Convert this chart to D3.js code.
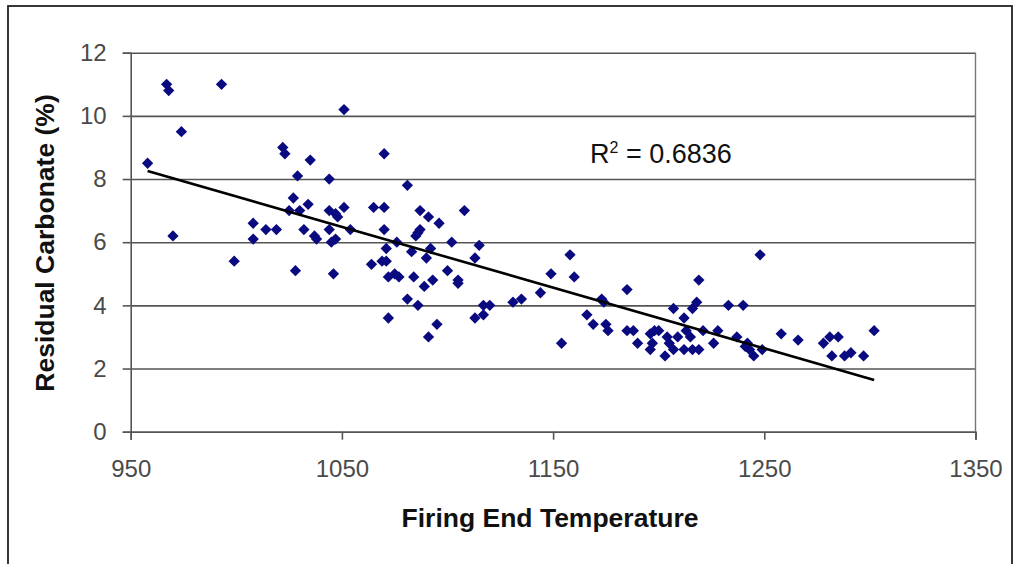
<!DOCTYPE html>
<html>
<head>
<meta charset="utf-8">
<script src="https://cdn.jsdelivr.net/npm/d3@7"></script>
<style>
  body { margin: 0; background: #fff; }
  text { font-family: "Liberation Sans", Arial, sans-serif; }
</style>
</head>
<body>
<div id="graf"></div>
<script>
// -- Datos
temperatura = [958, 967, 968, 970, 974, 993, 999, 1008, 1008, 1014, 1019, 1022, 1023, 1025, 1027, 1028, 1029, 1030,
    1032, 1034, 1035, 1037, 1038, 1044, 1044, 1044, 1045, 1046, 1047, 1047, 1048, 1051, 1051, 1054, 1064, 1065,
    1069, 1070, 1070, 1070, 1071, 1071, 1072, 1072, 1075, 1076, 1077, 1081, 1081, 1083, 1084, 1085, 1086, 1086,
    1087, 1087, 1089, 1090, 1091, 1091, 1092, 1093, 1095, 1096, 1100, 1102, 1105, 1105, 1108, 1113, 1113, 1115,
    1117, 1117, 1120, 1131, 1135, 1144, 1149, 1154, 1158, 1160, 1166, 1169, 1173, 1174, 1175, 1176, 1185, 1185,
    1188, 1190, 1196, 1196, 1197, 1198, 1200, 1203, 1204, 1205, 1207, 1207, 1209, 1212, 1212, 1213, 1215, 1216,
    1216, 1218, 1219, 1219, 1221, 1226, 1228, 1233, 1237, 1240, 1241, 1242, 1243, 1245, 1248, 1249, 1258, 1266,
    1278, 1281, 1282, 1285, 1288, 1291, 1297, 1302]
carbonato = [8.5, 11.0, 10.8, 6.2, 9.5, 11.0, 5.4, 6.6, 6.1, 6.4, 6.4, 9.0, 8.8, 7.0, 7.4, 5.1, 8.1, 7.0,
    6.4, 7.2, 8.6, 6.2, 6.1, 8.0, 7.0, 6.4, 6.0, 5.0, 6.9, 6.1, 6.8, 10.2, 7.1, 6.4, 5.3, 7.1,
    5.4, 8.8, 7.1, 6.4, 5.8, 5.4, 4.9, 3.6, 5.0, 6.0, 4.9, 7.8, 4.2, 5.7, 4.9, 6.2, 6.3, 4.0,
    7.0, 6.4, 4.6, 5.5, 6.8, 3.0, 5.8, 4.8, 3.4, 6.6, 5.1, 6.0, 4.8, 4.7, 7.0, 5.5, 3.6, 5.9,
    4.0, 3.7, 4.0, 4.1, 4.2, 4.4, 5.0, 2.8, 5.6, 4.9, 3.7, 3.4, 4.2, 4.1, 3.4, 3.2, 4.5, 3.2,
    3.2, 2.8, 3.1, 2.6, 2.8, 3.2, 3.2, 2.4, 3.0, 2.8, 3.9, 2.6, 3.0, 3.6, 2.6, 3.2, 3.0, 3.9,
    2.6, 4.1, 4.8, 2.6, 3.2, 2.8, 3.2, 4.0, 3.0, 4.0, 2.7, 2.8, 2.6, 2.4, 5.6, 2.6, 3.1, 2.9,
    2.8, 3.0, 2.4, 3.0, 2.4, 2.5, 2.4, 3.2]
xTicks = [950, 1050, 1150, 1250, 1350]
yTicks = [0, 2, 4, 6, 8, 10, 12]
tituloX = 'Firing End Temperature'
tituloY = 'Residual Carbonate (%)'
valorR2 = '0.6836'

// -- Configuración del canvas
ancho_total = 1021
alto_total = 564
margins = {top: 52.7, left: 130.7, right: 45.5, bottom: 132.3}
ancho = ancho_total - margins.left - margins.right
alto = alto_total - margins.top - margins.bottom

svg = d3.select('#graf').append('svg')
        .attr('width', ancho_total)
        .attr('height', alto_total)

// -- Marco exterior
svg.append('rect')
    .attr('x', 8).attr('y', 6)
    .attr('width', 1004).attr('height', 600)
    .attr('fill', 'none')
    .attr('stroke', '#222')
    .attr('stroke-width', 1.8)

g = svg.append('g')
        .attr('transform', `translate(${margins.left}, ${margins.top})`)

// -- Escaladores
x = d3.scaleLinear().domain([950, 1350]).range([0, ancho])
y = d3.scaleLinear().domain([0, 12]).range([alto, 0])

// -- Grid horizontal
yAxisGrid = d3.axisLeft(y).tickValues(yTicks).tickFormat('').tickSize(-ancho)
gridG = g.append('g').call(yAxisGrid)
gridG.select('.domain').remove()
gridG.selectAll('line').attr('stroke', '#555').attr('stroke-width', 1.6)

// -- Borde derecho del área
g.append('line')
    .attr('x1', ancho).attr('x2', ancho)
    .attr('y1', 0).attr('y2', alto)
    .attr('stroke', '#777').attr('stroke-width', 1.4)

// -- Ejes
yAxis = d3.axisLeft(y).tickValues(yTicks).tickFormat(d3.format('d')).tickSize(8).tickPadding(16)
ejeY = g.append('g').call(yAxis)
ejeY.select('.domain').attr('stroke', '#555').attr('stroke-width', 1.6)
ejeY.selectAll('.tick line').attr('stroke', '#555').attr('stroke-width', 1.6)
ejeY.selectAll('text')
    .attr('font-size', '24px')
    .attr('font-family', '"Liberation Sans", Arial, sans-serif')
    .attr('fill', '#4a4a4a')

xAxis = d3.axisBottom(x).tickValues(xTicks).tickFormat(d3.format('d')).tickSize(8).tickPadding(20)
ejeX = g.append('g').attr('transform', `translate(0, ${alto})`).call(xAxis)
ejeX.select('.domain').attr('stroke', '#555').attr('stroke-width', 1.6)
ejeX.selectAll('.tick line').attr('stroke', '#555').attr('stroke-width', 1.6)
ejeX.selectAll('text')
    .attr('font-size', '24px')
    .attr('font-family', '"Liberation Sans", Arial, sans-serif')
    .attr('fill', '#4a4a4a')

// -- Títulos de ejes
svg.append('text')
    .attr('x', 550).attr('y', 527)
    .attr('text-anchor', 'middle')
    .attr('font-size', '26.5px').attr('font-weight', 'bold')
    .attr('fill', '#111')
    .text(tituloX)

svg.append('text')
    .attr('transform', 'translate(54, 243) rotate(-90)')
    .attr('text-anchor', 'middle')
    .attr('font-size', '26.5px').attr('font-weight', 'bold')
    .attr('fill', '#111')
    .text(tituloY)

// -- Línea de tendencia (mínimos cuadrados)
datos = temperatura.map((t, i) => ({t: t, c: carbonato[i]}))
mx = d3.mean(datos, d => d.t)
my = d3.mean(datos, d => d.c)
pendiente = d3.sum(datos, d => (d.t - mx) * (d.c - my)) / d3.sum(datos, d => (d.t - mx) ** 2)
corte = my - pendiente * mx
extremos = d3.extent(temperatura)

// -- Puntos
g.selectAll('path.punto')
    .data(datos)
    .enter()
    .append('path')
    .attr('class', 'punto')
    .attr('d', d3.symbol().type(d3.symbolSquare).size(64))
    .attr('transform', d => `translate(${x(d.t)}, ${y(d.c)}) rotate(45)`)
    .attr('fill', '#0a0a80')

g.append('line')
    .attr('x1', x(extremos[0])).attr('y1', y(corte + pendiente * extremos[0]))
    .attr('x2', x(extremos[1])).attr('y2', y(corte + pendiente * extremos[1]))
    .attr('stroke', '#000')
    .attr('stroke-width', 2.6)

// -- Etiqueta R2
r2 = svg.append('text')
    .attr('x', 590).attr('y', 163)
    .attr('font-size', '27px')
    .attr('fill', '#111')
r2.append('tspan').text('R')
r2.append('tspan').attr('dy', -10).attr('font-size', '16px').text('2')
r2.append('tspan').attr('dy', 10).text(` = ${valorR2}`)
</script>
</body>
</html>
